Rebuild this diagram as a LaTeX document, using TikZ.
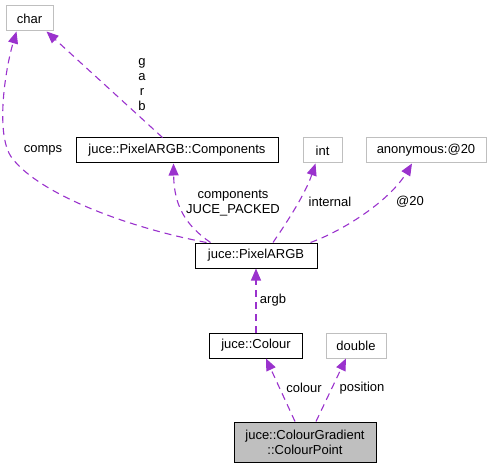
\documentclass[tikz,border=0pt]{standalone}
\usepackage{fontspec}
\setmainfont{Liberation Sans}
\usetikzlibrary{arrows.meta,calc}
\definecolor{edgec}{HTML}{9A32CD}
\definecolor{lgray}{HTML}{BFBFBF}
\begin{document}
\begin{tikzpicture}[x=1pt,y=-1pt,
  every node/.style={font=\fontsize{13}{15}\selectfont, inner sep=0pt, align=center},
  cls/.style={draw=black, line width=1pt, fill=white, minimum height=25pt},
  ext/.style={draw=lgray, line width=1pt, fill=white, minimum height=25pt},
  dep/.style={draw=edgec, line width=1.1pt, dash pattern=on 7pt off 5pt,
    -{Triangle[length=12pt,width=10pt]}, color=edgec},
  lbl/.style={text=black}]
\useasboundingbox (0,0) rectangle (493,468);
\node[ext, minimum width=47pt] (char) at (29.5,18.5) {char};
\node[cls, minimum width=202pt] (comp) at (177,150.5) {juce::PixelARGB::Components};
\node[ext, minimum width=39pt] (int) at (322.5,150.5) {int};
\node[ext, minimum width=120pt] (anon) at (426,150.5) {anonymous:@20};
\node[cls, minimum width=122pt] (pix) at (256,255.5) {juce::PixelARGB};
\node[cls, minimum width=93pt] (col) at (256,345.5) {juce::Colour};
\node[ext, minimum width=60pt] (dbl) at (356,345.5) {double};
\node[cls, fill=lgray, minimum width=142pt, minimum height=40pt] (cp) at (305,442) {juce::ColourGradient\\::ColourPoint};

\draw[dep] ($(pix.north west)+(12,0)$) .. controls (130,228) and (40,195) .. (12,158)
  .. controls (-5,135.6) and (5,70) .. ($(char.south west)+(11,0)$);
\draw[dep] ($(comp.north west)+(87,0)$) -- ($(char.south east)+(-7,0)$);
\draw[dep] ($(pix.north west)+(16,0)$) .. controls (185,225) and (174,205) .. ($(comp.south west)+(98,0)$);
\draw[dep] ($(pix.north)+(17,0)$) .. controls (285,225) and (305,195) .. ($(int.south)+(-7,0)$);
\draw[dep] ($(pix.north east)+(-7,0)$) .. controls (345,230) and (390,200) .. ($(anon.south)+(-14,0)$);
\draw[dep] (col.north) -- (col.north |- pix.south);
\draw[dep] ($(cp.north)+(-10,0)$) -- ($(col.south)+(10,0)$);
\draw[dep] ($(cp.north)+(11,0)$) -- ($(dbl.south)+(-10,0)$);

\node[lbl] (lcomps) at (43,150) {comps};
\node[lbl] (lgarb) at (142,85) {g\\a\\r\\b};
\node[lbl] (lcomp) at (233,203) {components\\JUCE\_PACKED};
\node[lbl] (lint) at (330,202) {internal};
\node[lbl] (l20) at (410,202) {@20};
\node[lbl] (largb) at (273,300) {argb};
\node[lbl] (lcol) at (304,388) {colour};
\node[lbl] (lpos) at (362,388) {position};
\end{tikzpicture}
\end{document}
